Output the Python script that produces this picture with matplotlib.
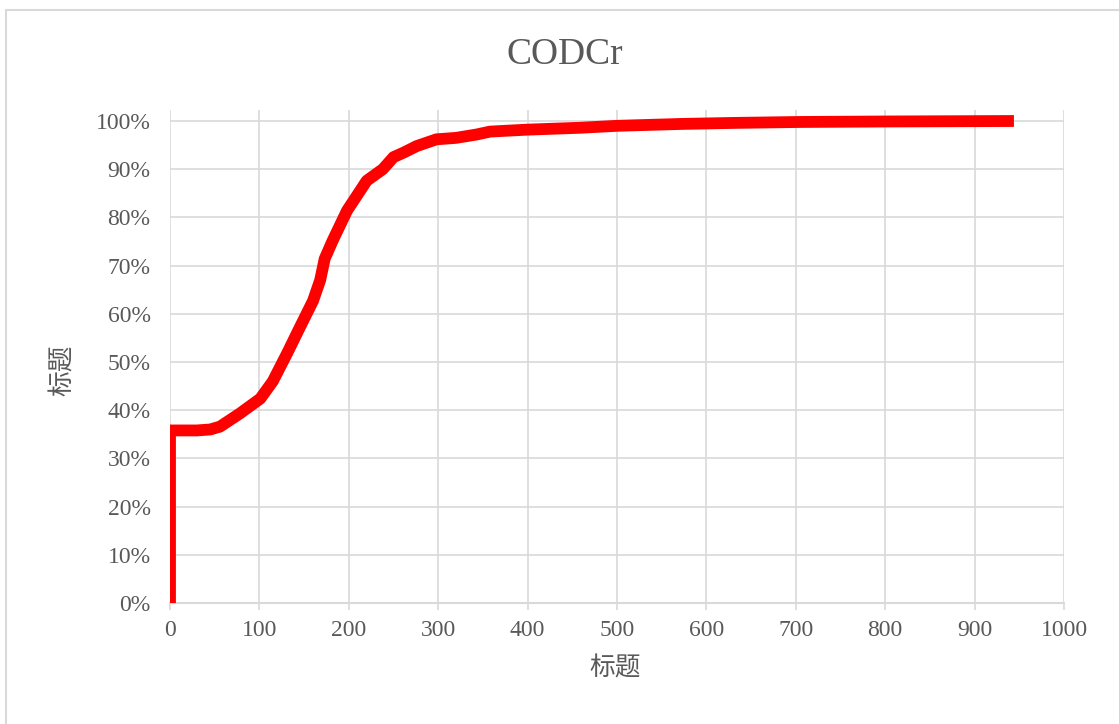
import matplotlib
matplotlib.use("Agg")
import matplotlib.pyplot as plt
from matplotlib.patches import Rectangle
from matplotlib.ticker import PercentFormatter

# Data (cumulative frequency of CODCr)
cod_values = [0, 0, 10, 30, 45, 56, 78, 101, 115, 131, 145, 160, 168, 173,
              182, 198, 220, 238, 250, 262, 276, 298, 320, 343, 358, 399,
              459, 500, 574, 630, 705, 800, 944]
cum_share = [0.0, 0.358, 0.358, 0.358, 0.360, 0.366, 0.393, 0.424, 0.460,
             0.518, 0.571, 0.627, 0.670, 0.714, 0.752, 0.814, 0.876, 0.900,
             0.925, 0.935, 0.948, 0.962, 0.965, 0.972, 0.978, 0.982, 0.986,
             0.990, 0.994, 0.996, 0.998, 0.999, 1.0]
x_ticks = [0, 100, 200, 300, 400, 500, 600, 700, 800, 900, 1000]
y_ticks = [0.0, 0.1, 0.2, 0.3, 0.4, 0.5, 0.6, 0.7, 0.8, 0.9, 1.0]
title_text = "CODCr"
x_title = "标题"
y_title = "标题"

W, H = 1119, 724
fig = plt.figure(figsize=(W / 100, H / 100), dpi=100)
fig.patch.set_facecolor("white")

# outer chart border (screenshot edge)
fig.add_artist(Rectangle((6 / W, -0.05), 1.2, 1 - 10 / H + 0.05,
                         transform=fig.transFigure, fill=False,
                         edgecolor="#D9D9D9", linewidth=1.5))

left, right, bottom, top = 170, 1064, 603, 110
ax = fig.add_axes([left / W, 1 - bottom / H, (right - left) / W, (bottom - top) / H])

ax.plot(cod_values, cum_share, color="#FF0000", linewidth=8.5,
        solid_capstyle="butt", solid_joinstyle="round", zorder=3)

ax.set_xlim(0, 1000)
ax.set_ylim(0, 493 / 482)
ax.set_xticks(x_ticks)
ax.set_yticks(y_ticks)
ax.yaxis.set_major_formatter(PercentFormatter(1.0, decimals=0))

grid_c = "#D9D9D9"
ax.grid(True, color=grid_c, linewidth=1.2, zorder=0)
ax.set_axisbelow(True)
for s in ["top", "right", "left"]:
    ax.spines[s].set_visible(False)
ax.spines["bottom"].set_color(grid_c)
ax.spines["bottom"].set_linewidth(1.5)

serif = ["Liberation Serif", "DejaVu Serif"]
tick_c = "#595959"
ax.tick_params(axis="x", length=5, width=1.2, color=grid_c, pad=7,
               labelsize=17, labelcolor=tick_c)
ax.tick_params(axis="y", length=0, pad=14, labelsize=17, labelcolor=tick_c)
for lab in ax.get_xticklabels() + ax.get_yticklabels():
    lab.set_fontfamily(serif)

cjk = ["Noto Sans CJK SC", "DejaVu Sans"]
fig.text(565 / W, 1 - 55 / H, title_text, ha="center", va="center",
         fontsize=27, color=tick_c, family=serif)
fig.text(615 / W, 1 - 668 / H, x_title, ha="center", va="center",
         fontsize=18.5, color=tick_c, family=cjk)
fig.text(63 / W, 1 - 370 / H, y_title, ha="center", va="center",
         fontsize=18.5, color=tick_c, family=cjk, rotation=90)

fig.savefig("out.png", dpi=100, facecolor="white")
